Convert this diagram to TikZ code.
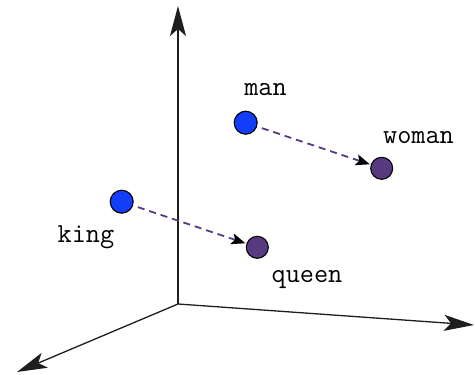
\documentclass[tikz,border=0pt]{standalone}
\usetikzlibrary{arrows.meta}
\definecolor{wblue}{RGB}{18,62,250}
\definecolor{wpurple}{RGB}{88,58,128}
\definecolor{axisgray}{RGB}{30,30,30}
\tikzset{
  axisline/.style={draw=axisgray, line width=1.3pt, -{Stealth[length=30pt,width=16pt,inset=7pt]}},
  bluedot/.style={circle, draw=black, line width=1.1pt, fill=wblue, minimum size=23pt, inner sep=0pt},
  purpledot/.style={circle, draw=black, line width=1.1pt, fill=wpurple, minimum size=22pt, inner sep=0pt},
  wordlabel/.style={font=\ttfamily\fontsize{27.5}{29}\selectfont, inner sep=0pt},
  relation/.style={draw=wpurple, line width=1.8pt, dash pattern=on 7pt off 5pt,
    -{Stealth[length=14pt,width=11pt,inset=3pt,black]}, shorten <=5pt, shorten >=1pt}
}
\begin{document}
\begin{tikzpicture}[x=1pt,y=-1pt]
\useasboundingbox (0,0) rectangle (475,375);
\coordinate (O) at (178,304);
\coordinate (up) at (178,6);
\coordinate (right) at (474,325);
\coordinate (left) at (17,372);
\draw[axisline] (O) -- (up);
\draw[axisline] (O) -- (right);
\draw[axisline] (O) -- (left);

\node[bluedot] (man) at (245.7,122.7) {};
\node[purpledot] (woman) at (381.7,168.3) {};
\node[bluedot] (king) at (121.7,201.7) {};
\node[purpledot] (queen) at (257.3,247.3) {};

\node[wordlabel] (manlbl) at (265.5,90) {man};
\node[wordlabel] (womanlbl) at (418.5,138) {woman};
\node[wordlabel] (kinglbl) at (86,237) {king};
\node[wordlabel] (queenlbl) at (307,280) {queen};

\draw[relation] (man) -- (woman);
\draw[relation] (king) -- (queen);
\end{tikzpicture}
\end{document}
